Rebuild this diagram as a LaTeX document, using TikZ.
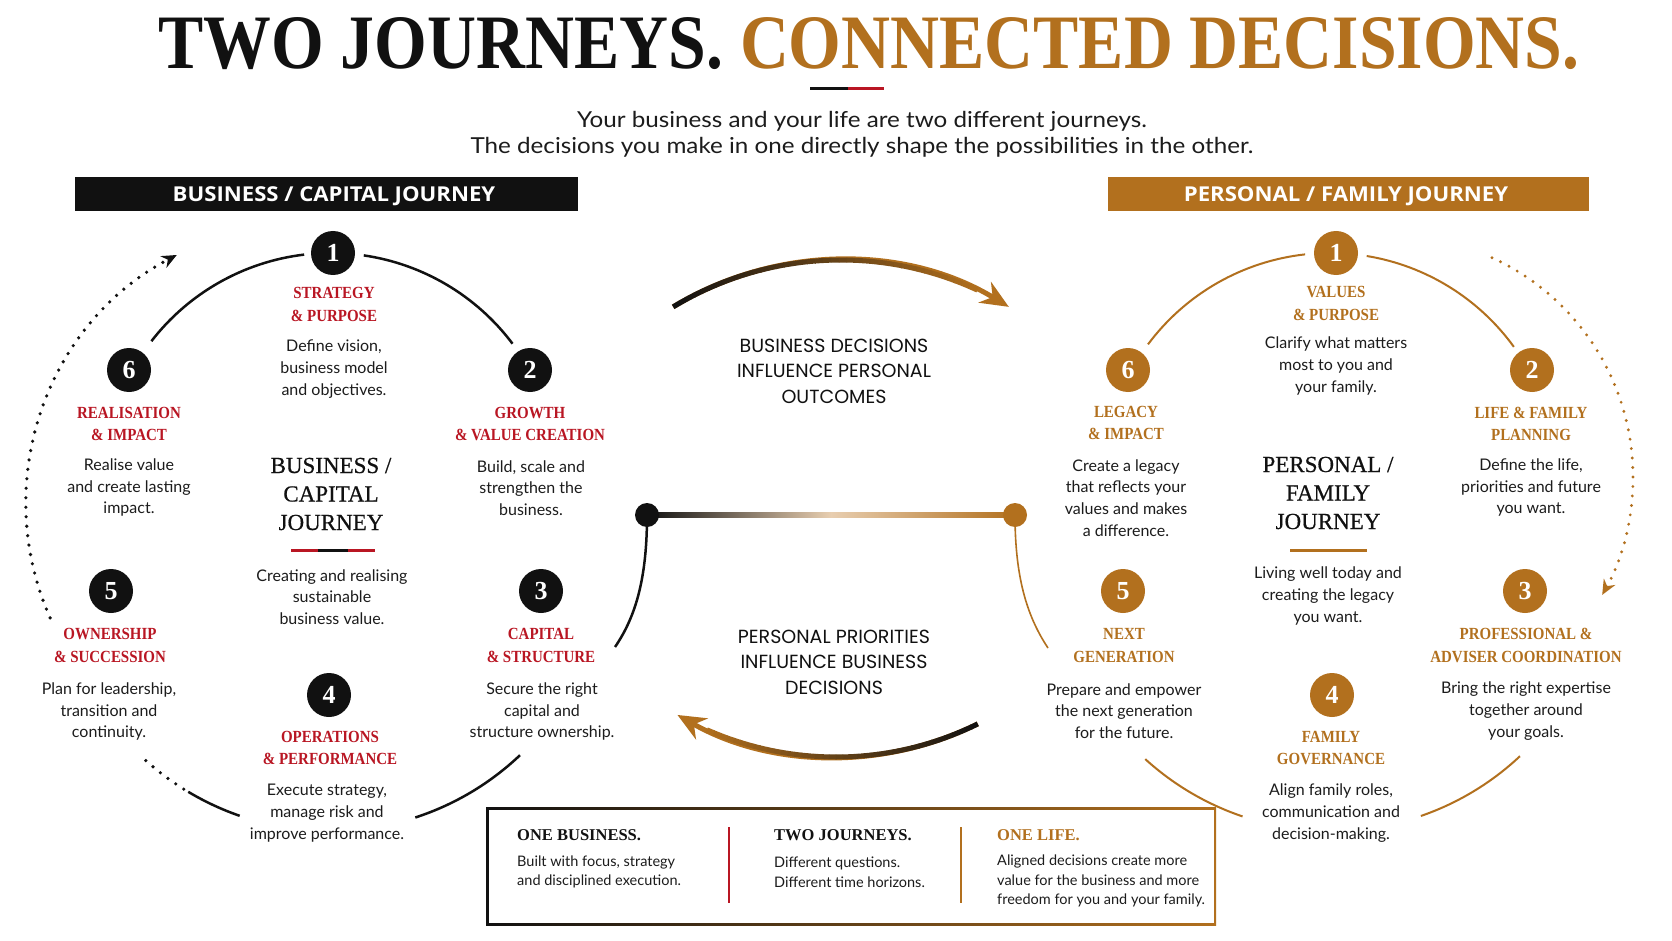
\documentclass[tikz,border=0pt]{standalone}
\usepackage{fontspec}
\setmainfont{Lato}
\newfontfamily\serifcond[FakeStretch=0.88]{Liberation Serif}
\newfontfamily\seriffont{Liberation Serif}
\newfontfamily\hubserif[FakeBold=0.6]{Liberation Serif}
\newfontfamily\headsans[FakeStretch=1.08]{Open Sans}
\newfontfamily\midsans{Poppins}
\newfontfamily\subsans[FakeStretch=1.1]{Lato}
\usetikzlibrary{arrows.meta}

\definecolor{ink}{RGB}{17,17,17}
\definecolor{gold}{RGB}{178,112,30}
\definecolor{bizred}{RGB}{185,22,35}
\definecolor{beige}{RGB}{232,206,176}
\definecolor{txt}{RGB}{28,28,28}

\tikzset{
  bnum/.style={circle, fill=ink, text=white, minimum size=44pt, inner sep=0pt,
    font=\seriffont\bfseries\fontsize{26}{26}\selectfont},
  pnum/.style={bnum, fill=gold},
  blabel/.style={align=center, text=bizred, font=\serifcond\bfseries\fontsize{17}{22.5}\selectfont},
  plabel/.style={blabel, text=gold},
  desc/.style={align=center, text=txt, font=\fontsize{16}{21.8}\selectfont},
  hub/.style={align=center, text=ink, font=\hubserif\fontsize{23}{28.5}\selectfont},
  mid/.style={align=center, text=ink, font=\midsans\fontsize{19}{25.5}\selectfont},
  bar/.style={text=white, font=\headsans\bfseries\fontsize{20.5}{21}\selectfont},
  sub/.style={text=txt, font=\subsans\fontsize{22}{26}\selectfont},
  boxhead/.style={anchor=west, inner sep=0pt, text=ink, font=\seriffont\bfseries\fontsize{16.5}{20}\selectfont},
  boxtext/.style={anchor=west, inner sep=0pt, align=left, text=txt, font=\fontsize{14.5}{19.7}\selectfont},
  cyc/.style={line width=2.5pt, ink},
  pcyc/.style={line width=2pt, gold},
  dots/.style={line width=3.6pt, dash pattern=on 0pt off 9.5pt, line cap=round},
}

\begin{document}
\begin{tikzpicture}[x=1pt, y=-1pt]
  \fill[white] (0,0) rectangle (1672,941);
  \useasboundingbox (0,0) rectangle (1672,941);

  % title and subtitle
  \node[anchor=base, text=ink, font=\serifcond\bfseries\fontsize{77}{80}\selectfont] (title) at (869,69)
    {TWO JOURNEYS. \textcolor{gold}{CONNECTED DECISIONS.}};
  \fill[ink] (810,87.5) rectangle (848,90.5);
  \fill[bizred] (848,87.5) rectangle (884,90.5);
  \node[sub, anchor=base] (sub1) at (862,128) {Your business and your life are two different journeys.};
  \node[sub, anchor=base] (sub2) at (862,154) {The decisions you make in one directly shape the possibilities in the other.};

  \fill[ink] (75,177) rectangle (578,211);
  \node[bar] (bizbar) at (334,196) {BUSINESS / CAPITAL JOURNEY};
  \fill[gold] (1108,177) rectangle (1589,211);
  \node[bar] (perbar) at (1346,196) {PERSONAL / FAMILY JOURNEY};

  % business cycle
  \coordinate (bc) at (331,480);
  \coordinate (bl) at (330,555);
  \coordinate (bd) at (307,504);
  \draw[cyc] (bc) ++(-96.8:227) arc[start angle=-96.8, end angle=-142.3, radius=227];
  \draw[cyc] (bc) ++(-81.7:227) arc[start angle=-81.7, end angle=-36.9, radius=227];
  \draw[cyc] (bl) ++(46.5:276) arc[start angle=46.5, end angle=72, radius=276];
  \draw[cyc] (bl) ++(109.1:276) arc[start angle=109.1, end angle=120.9, radius=276];
  \draw[dots, ink] (bl) ++(122:276) arc[start angle=122, end angle=133.2, radius=276];
  \draw[dots, ink, -{Stealth[length=15pt, width=13pt]}] (bd) ++(156.1:281)
    arc[start angle=156.1, end angle=242.4, radius=281];

  \node[bnum] (b1) at (333,253) {1};
  \node[bnum] (b2) at (530,370) {2};
  \node[bnum] (b3) at (541,591) {3};
  \node[bnum] (b4) at (329,695) {4};
  \node[bnum] (b5) at (111,591) {5};
  \node[bnum] (b6) at (129,370) {6};

  \node[blabel] (bl1) at (334,304.5) {STRATEGY\\\& PURPOSE};
  \node[desc] (bd1) at (334,369) {Define vision,\\business model\\and objectives.};
  \node[blabel] (bl2) at (530,424) {GROWTH\\\& VALUE CREATION};
  \node[desc] (bd2) at (531,488) {Build, scale and\\strengthen the\\business.};
  \node[blabel] (bl3) at (541,645.5) {CAPITAL\\\& STRUCTURE};
  \node[desc] (bd3) at (542,711.5) {Secure the right\\capital and\\structure ownership.};
  \node[blabel] (bl4) at (330,748) {OPERATIONS\\\& PERFORMANCE};
  \node[desc] (bd4) at (327,813) {Execute strategy,\\manage risk and\\improve performance.};
  \node[blabel] (bl5) at (110,645.5) {OWNERSHIP\\\& SUCCESSION};
  \node[desc] (bd5) at (109,711.5) {Plan for leadership,\\transition and\\continuity.};
  \node[blabel] (bl6) at (129,424) {REALISATION\\\& IMPACT};
  \node[desc] (bd6) at (129,487.5) {Realise value\\and create lasting\\impact.};

  \node[hub] (bhub) at (331,494) {BUSINESS /\\CAPITAL\\JOURNEY};
  \fill[bizred] (291,548.5) rectangle (318,551.5);
  \fill[ink] (318,548.5) rectangle (348,551.5);
  \fill[bizred] (348,548.5) rectangle (375,551.5);
  \node[desc] (bhubd) at (332,597) {Creating and realising\\sustainable\\business value.};

  % personal cycle
  \coordinate (pc) at (1330,480);
  \coordinate (pl) at (1331,555);
  \coordinate (pd) at (1392,477);
  \draw[pcyc] (pc) ++(-96.3:227) arc[start angle=-96.3, end angle=-143.3, radius=227];
  \draw[pcyc] (pc) ++(-80.7:227) arc[start angle=-80.7, end angle=-35.9, radius=227];
  \draw[pcyc] (pl) ++(108.7:276) arc[start angle=108.7, end angle=132.3, radius=276];
  \draw[pcyc] (pl) ++(46.8:276) arc[start angle=46.8, end angle=71, radius=276];
  \draw[dots, gold, line width=3.2pt, -{Stealth[length=15pt, width=13pt]}] (pd) ++(-65.5:241)
    arc[start angle=-65.5, end angle=29.3, radius=241];

  \node[pnum] (p1) at (1336,253) {1};
  \node[pnum] (p2) at (1532,370) {2};
  \node[pnum] (p3) at (1525,591) {3};
  \node[pnum] (p4) at (1332,695) {4};
  \node[pnum] (p5) at (1123,591) {5};
  \node[pnum] (p6) at (1128,370) {6};

  \node[plabel] (pl1) at (1336,303.5) {VALUES\\\& PURPOSE};
  \node[desc] (pd1) at (1336,366) {Clarify what matters\\most to you and\\your family.};
  \node[plabel] (pl2) at (1531,424) {LIFE \& FAMILY\\PLANNING};
  \node[desc] (pd2) at (1531,487.5) {Define the life,\\priorities and future\\you want.};
  \node[plabel] (pl3) at (1526,645.5) {PROFESSIONAL \&\\ADVISER COORDINATION};
  \node[desc] (pd3) at (1526,711) {Bring the right expertise\\together around\\your goals.};
  \node[plabel] (pl4) at (1331,748) {FAMILY\\GOVERNANCE};
  \node[desc] (pd4) at (1331,813) {Align family roles,\\communication and\\decision-making.};
  \node[plabel] (pl5) at (1124,645.5) {NEXT\\GENERATION};
  \node[desc] (pd5) at (1124,711) {Prepare and empower\\the next generation\\for the future.};
  \node[plabel] (pl6) at (1126,423) {LEGACY\\\& IMPACT};
  \node[desc] (pd6) at (1126,498) {Create a legacy\\that reflects your\\values and makes\\a difference.};

  \node[hub] (phub) at (1328,493) {PERSONAL /\\FAMILY\\JOURNEY};
  \fill[gold] (1290,548.5) rectangle (1367,551.5);
  \node[desc] (phubd) at (1328,596) {Living well today and\\creating the legacy\\you want.};

  % links between the journeys
  \coordinate (ta) at (841,584);
  \draw[line width=5pt, gold, -{Stealth[length=28pt, width=24pt]}] (ta) ++(-121.2:324)
    arc[start angle=-121.2, end angle=-58.8, radius=324];
  \foreach \i in {0,...,39} {
    \pgfmathsetmacro\sa{-121.2+\i*1.4}
    \pgfmathsetmacro\pc{\i*2.5}
    \draw[line width=5pt, gold!\pc!ink] (ta) ++(\sa:324) arc[start angle=\sa, delta angle=1.5, radius=324];
  }
  \coordinate (ba) at (836,437);
  \draw[line width=5pt, gold, -{Stealth[length=28pt, width=24pt]}] (ba) ++(63.7:320)
    arc[start angle=63.7, end angle=119.7, radius=320];
  \foreach \i in {0,...,39} {
    \pgfmathsetmacro\sa{63.7+\i*1.25}
    \pgfmathsetmacro\pc{\i*2.5}
    \draw[line width=5pt, gold!\pc!ink] (ba) ++(\sa:320) arc[start angle=\sa, delta angle=1.35, radius=320];
  }

  \node[mid] (m1) at (834,371) {BUSINESS DECISIONS\\INFLUENCE PERSONAL\\OUTCOMES};
  \node[mid] (m2) at (834,662) {PERSONAL PRIORITIES\\INFLUENCE BUSINESS\\DECISIONS};

  \coordinate (lj) at (647,515);
  \coordinate (rj) at (1015,515);
  \coordinate (lend) at (615,647);
  \coordinate (rend) at (1048,648);
  \shade[left color=ink, right color=gold, middle color=beige]
    ([yshift=2.5pt]lj) rectangle ([yshift=-2.5pt]rj);
  \draw[cyc] (lj) .. controls (647,575) and (637,615) .. (lend);
  \draw[pcyc, line width=1.6pt] (rj) .. controls (1015,575) and (1026,615) .. (rend);
  \fill[ink] (lj) circle (12);
  \fill[gold] (rj) circle (12);

  % summary box
  \shade[left color=ink, right color=gold] (486,807) rectangle (1216,925);
  \fill[white] (488.5,809.5) rectangle (1213.5,922.5);
  \node[boxhead] (h1) at (517,835) {ONE BUSINESS.};
  \node[boxtext] (t1) at (517,872) {Built with focus, strategy\\and disciplined execution.};
  \draw[bizred, line width=1.5pt] (729,827) -- (729,903);
  \node[boxhead] (h2) at (774,835) {TWO JOURNEYS.};
  \node[boxtext] (t2) at (774,872) {Different questions.\\Different time horizons.};
  \draw[gold, line width=1.5pt] (961,827) -- (961,903);
  \node[boxhead, text=gold] (h3) at (997,835) {ONE LIFE.};
  \node[boxtext] (t3) at (997,881) {Aligned decisions create more\\value for the business and more\\freedom for you and your family.};
\end{tikzpicture}
\end{document}
